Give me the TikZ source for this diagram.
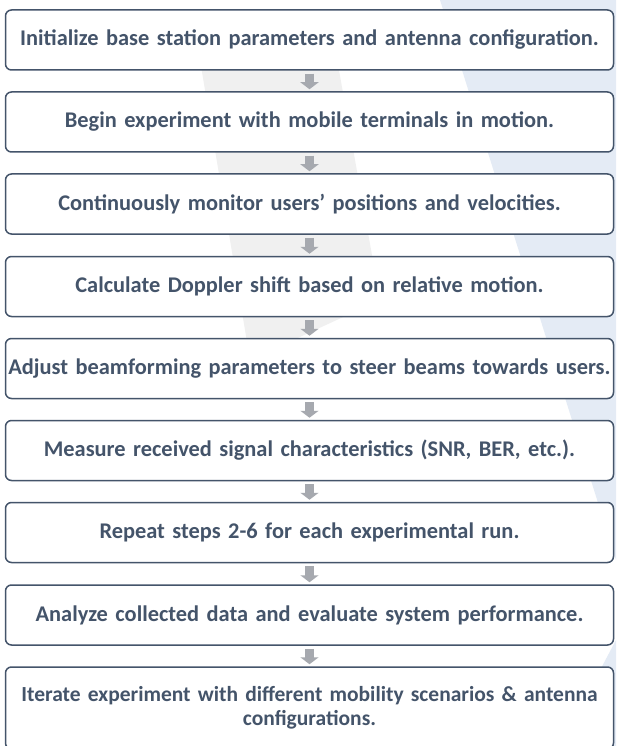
\documentclass[tikz,border=0pt]{standalone}
\usepackage{fontspec}
\setmainfont{Carlito}
\usetikzlibrary{arrows.meta}
\definecolor{slate}{HTML}{44546A}
\definecolor{arrowgray}{HTML}{A6A9AF}
\definecolor{markblue}{HTML}{E4EBF5}
\definecolor{markgray}{HTML}{F0F0F0}

\begin{document}
\begin{tikzpicture}[x=1pt,y=-1pt,
    stepbox/.style={draw=slate,line width=1.5pt,rounded corners=6pt,fill=white,
      minimum width=607pt,minimum height=60pt,text width=608pt,inner xsep=0pt,
      align=center,text=slate,font=\bfseries\fontsize{22.4}{23.5}\selectfont},
    flowarrow/.style={draw=arrowgray,line width=9pt,
      -{Triangle[width=18pt,length=7pt]},shorten <=3pt,shorten >=2pt}]
    \clip (0,0) rectangle (616,746);
    \fill[white] (0,0) rectangle (616,746);
    % faint logo in the background
    \fill[markblue] (440,0) -- (616,0) -- (616,560) -- cycle;
    \fill[markblue] (560,746) -- (616,640) -- (616,746) -- cycle;
    \fill[markgray] (200,60) -- (330,20) -- (380,300) -- (250,360) -- cycle;

    \node[stepbox] (s1) at (309.5,40) {Initialize base station parameters and antenna configuration.};
    \node[stepbox] (s2) at (309.5,122) {Begin experiment with mobile terminals in motion.};
    \node[stepbox] (s3) at (309.5,204) {Continuously monitor users' positions and velocities.};
    \node[stepbox] (s4) at (309.5,286.5) {Calculate Doppler shift based on relative motion.};
    \node[stepbox] (s5) at (309.5,368.5) {Adjust beamforming parameters to steer beams towards users.};
    \node[stepbox] (s6) at (309.5,450.5) {Measure received signal characteristics (SNR, BER, etc.).};
    \node[stepbox] (s7) at (309.5,532.5) {Repeat steps 2-6 for each experimental run.};
    \node[stepbox] (s8) at (309.5,615) {Analyze collected data and evaluate system performance.};
    \node[stepbox,minimum height=82pt,font=\bfseries\fontsize{21.5}{23.5}\selectfont] (s9) at (309.5,708)
        {Iterate experiment with different mobility scenarios \& antenna\\configurations.};

    \foreach \a/\b in {s1/s2,s2/s3,s3/s4,s4/s5,s5/s6,s6/s7,s7/s8,s8/s9}
        \draw[flowarrow] (\a) -- (\b);
\end{tikzpicture}
\end{document}
